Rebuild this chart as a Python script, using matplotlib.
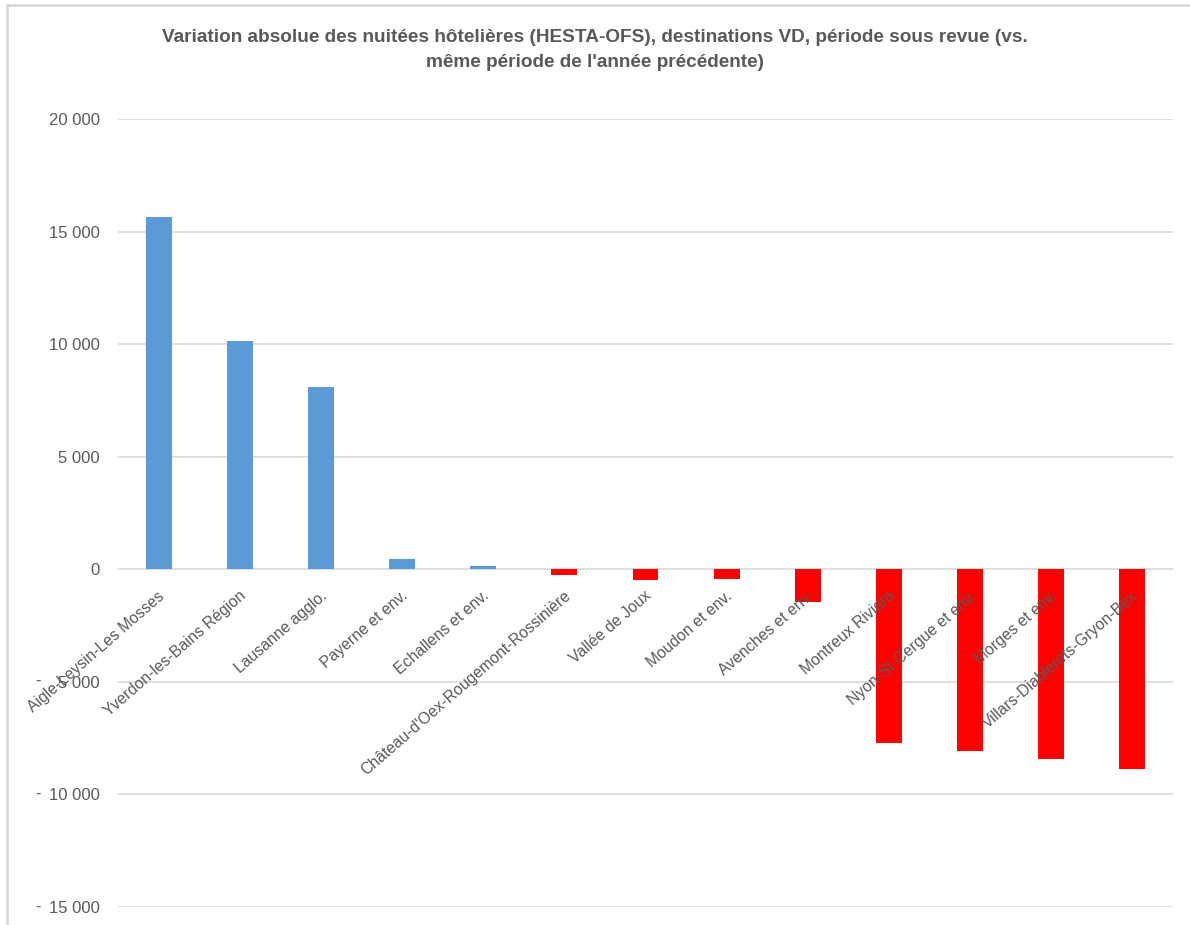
import matplotlib
matplotlib.use("Agg")
import matplotlib.pyplot as plt
import matplotlib.transforms as mtransforms
from matplotlib.ticker import FuncFormatter, MultipleLocator

# data
destinations = [
    "Aigle-Leysin-Les Mosses",
    "Yverdon-les-Bains Région",
    "Lausanne agglo.",
    "Payerne et env.",
    "Echallens et env.",
    "Château-d'Oex-Rougemont-Rossinière",
    "Vallée de Joux",
    "Moudon et env.",
    "Avenches et env.",
    "Montreux Riviera",
    "Nyon-St-Cergue et env.",
    "Morges et env.",
    "Villars-Diablerets-Gryon-Bex",
]
variation = [15650, 10130, 8090, 450, 130, -250, -460, -450, -1450,
             -7720, -8090, -8440, -8860]

title = ("Variation absolue des nuitées hôtelières (HESTA-OFS), destinations VD, période sous revue (vs.\n"
         "même période de l'année précédente)")

blue = "#5B9BD5"
red = "#FF0000"
grey_txt = "#595959"
grid_col = "#D9D9D9"

plt.rcParams['font.family'] = ['Liberation Sans', 'DejaVu Sans']

W, H = 1190, 925
fig = plt.figure(figsize=(W / 100, H / 100), dpi=100)
ax = fig.add_axes([118 / W, 1 - 907 / H, (1173 - 118) / W, (907 - 119) / H])

x = list(range(len(destinations)))
colors = [blue if v >= 0 else red for v in variation]
ax.bar(x, variation, width=0.32, color=colors, zorder=3)

ax.set_ylim(-15000, 20000)
ax.set_xlim(-0.5, len(destinations) - 0.5)
ax.yaxis.set_major_locator(MultipleLocator(5000))
ax.yaxis.grid(True, color=grid_col, linewidth=1.2, zorder=0)
ax.set_axisbelow(True)
for s in ax.spines.values():
    s.set_visible(False)
ax.set_xticks([])
ax.tick_params(axis='y', length=0, pad=13, labelsize=12, labelcolor=grey_txt)


def fmt(v, pos):
    s = f"{abs(int(v)):,}".replace(",", " ")
    return s


ax.yaxis.set_major_formatter(FuncFormatter(fmt))

# Excel-style minus signs for negative ticks
trans_dash = mtransforms.blended_transform_factory(fig.transFigure, ax.transData)
for t in range(-15000, 0, 5000):
    ax.text(35 / W, t, "-", transform=trans_dash, ha='left', va='center',
            fontsize=12, color=grey_txt)

# category labels, rotated, anchored on the zero line
lab_trans = mtransforms.offset_copy(ax.transData, fig=fig, x=-1, y=-19, units='dots')
for i, name in enumerate(destinations):
    ax.text(i, 0, name, transform=lab_trans, rotation=41, rotation_mode='anchor',
            ha='right', va='top', fontsize=11.3, color=grey_txt, zorder=5)

fig.text(0.5, 1 - 50 / H, title, ha='center', va='center', fontsize=13.7,
         fontweight='bold', color=grey_txt, linespacing=1.55)

# light chart border (left and top)
fig.add_artist(plt.Line2D([7 / W, 7 / W], [0, 1 - 5 / H], transform=fig.transFigure,
                          color=grid_col, linewidth=2))
fig.add_artist(plt.Line2D([7 / W, 1], [1 - 5 / H, 1 - 5 / H], transform=fig.transFigure,
                          color=grid_col, linewidth=2))

fig.savefig("out.png", dpi=100)
